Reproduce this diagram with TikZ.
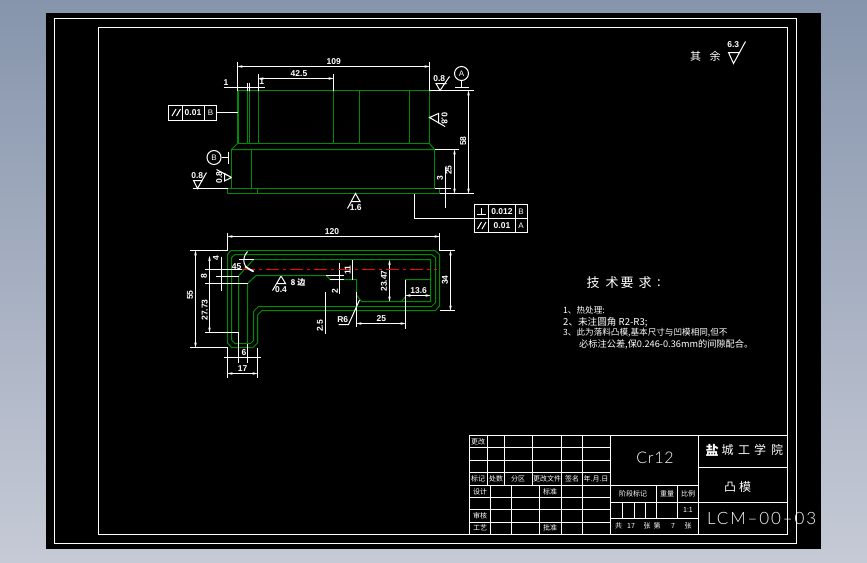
\documentclass[tikz,border=0pt]{standalone}
\usepackage{fontspec}
\setmainfont{Liberation Sans}
\newfontfamily\cjk{Noto Sans CJK SC}
\newfontfamily\cad[LetterSpace=5]{Lato Light}
\newfontfamily\cadwide[LetterSpace=11]{Lato Light}
\usetikzlibrary{arrows.meta}
\definecolor{partgreen}{RGB}{0,140,0}
\definecolor{winA}{RGB}{134,149,172}
\definecolor{winB}{RGB}{198,202,214}
\tikzset{
	>={Stealth[length=5pt,width=2.6pt]},
	part/.style={draw=partgreen,line width=1pt},
	line/.style={draw=white,line width=1pt},
	dimline/.style={line,<->},
	dimtext/.style={text=white,font=\bfseries\fontsize{8.5}{8.5}\selectfont,inner sep=0pt},
	cjktext/.style={text=white,font=\cjk\fontsize{7}{7}\selectfont,inner sep=0pt},
	bigtext/.style={text=white,font=\cad\fontsize{16}{16}\selectfont,inner sep=0pt}
}
\begin{document}
\begin{tikzpicture}[x=1pt,y=-1pt]

	\useasboundingbox (0,0) rectangle (867,562);
	\shade [top color=winA, bottom color=winB] (0,0) rectangle (867,562);
	\fill [black] (46,13) rectangle (821,549);
	\draw [line] (54.5,18.5) rectangle (796.5,543.5);
	\draw [line] (98.5,27.5) rectangle (787.5,534.5);

	% front view
	\coordinate (A) at (237.5,90.5);
	\coordinate (B) at (429.5,90.5);
	\coordinate (C) at (429.5,143.5);
	\coordinate (D) at (237.5,143.5);
	\coordinate (E) at (231.5,149.5);
	\coordinate (F) at (434.5,149.5);
	\coordinate (G) at (434.5,188.5);
	\coordinate (H) at (231.5,188.5);
	\coordinate (I) at (227.5,188.5);
	\coordinate (J) at (439.5,188.5);
	\coordinate (K) at (439.5,193.5);
	\coordinate (L) at (227.5,193.5);

	\draw [part] (A)--(B)--(C)--(D)--(A);
	\draw [part,line width=2pt] (A)--(D);
	\draw [part] (D)--(E)--(F)--(C);
	\draw [part] (E)--(H) (F)--(G);
	\draw [part] (I)--(J)--(K)--(L)--(I);
	\foreach \x in {247.5,249.5,258.5,333.5,359.5,409.5}
		\draw [part] (\x,90.5) -- (\x,143.5);
	\draw [part] (251.5,149.5) -- (251.5,188.5);
	\draw [part] (257.5,188.5) -- (257.5,193.5);

	% front view dimensions
	\draw [line] (A) -- (237.5,61.5);
	\draw [line] (B) -- (429.5,61.5);
	\draw [dimline] (237.5,66.5) -- (429.5,66.5);
	\draw [line] (258.5,90.5) -- (258.5,74);
	\draw [line] (333.5,90.5) -- (333.5,74);
	\draw [dimline] (258.5,78.5) -- (333.5,78.5);
	\draw [line] (223.5,87.5) -- (265,87.5);
	\foreach \x in {247.5,249.5}
		\draw [line] (\x,83) -- (\x,90.5);
	\draw [line] (B) -- (474,90.5);
	\draw [line] (K) -- (474,193.5);
	\draw [dimline] (468.5,90.5) -- (468.5,193.5);
	\draw [line] (F) -- (458.5,149.5);
	\draw [dimline] (454.5,149.5) -- (454.5,193.5);
	\draw [line] (G) -- (451,188.5);
	\draw [line] (445.5,166.5) -- (445.5,207.5);

	% datums and frames
	\node [line,circle,minimum size=14pt,inner sep=0pt,text=white,font=\fontsize{8}{8}\selectfont] (datumA) at (461.5,73.5) {A};
	\coordinate (datumAfoot) at (461.5,87.5);
	\draw [line] (datumA) -- (datumAfoot);
	\draw [line] (455,87.5) -- (468.5,87.5);
	\node [line,circle,minimum size=14pt,inner sep=0pt,text=white,font=\fontsize{8}{8}\selectfont] (datumB) at (214,157.5) {B};
	\coordinate (datumBfoot) at (228.5,157.5);
	\draw [line] (datumB) -- (datumBfoot);
	\draw [line] (228.5,151.5) -- (228.5,163.5);

	\draw [line] (168.5,105.5) rectangle (216.5,120.5);
	\draw [line] (182.5,105.5) -- (182.5,120.5) (204.5,105.5) -- (204.5,120.5);
	\draw [line] (172,116) -- (176,109) (176.5,116) -- (180.5,109);
	\draw [line] (216.5,112.5) -- (237.5,112.5);

	\draw [line] (414.5,193.5) -- (414.5,218.5) -- (474.5,218.5);
	\draw [line] (474.5,204.5) rectangle (527.5,232.5);
	\draw [line] (474.5,218.5) -- (527.5,218.5);
	\draw [line] (488.5,204.5) -- (488.5,232.5) (515.5,204.5) -- (515.5,232.5);
	\draw [line] (477,214.5) -- (485.5,214.5) (481.5,208) -- (481.5,214.5);
	\draw [line] (477.5,229) -- (481.5,222) (482,229) -- (486,222);

	% roughness marks
	\draw [line] (192.5,188.5) -- (227.5,188.5);
	\draw [line] (206.5,172.5) -- (197.5,188.5) -- (193.5,180.5) -- (202.5,180.5);
	\draw [line] (449.5,76.5) -- (440,90.5) -- (436,83.5) -- (446.5,83.5);
	\draw [line] (445,126.5) -- (429.5,117.5) -- (438.5,113.5) -- (438.5,123.5);
	\draw [line] (216.5,169.5) -- (231.5,177.5) -- (224.5,173.5) -- (224.5,181) -- (231.5,177.5);
	\draw [line] (347.5,208.5) -- (355.5,193.5) -- (360,201.5) -- (351.5,201.5);
	\draw [line] (272.5,290.5) -- (281,276) -- (285.5,283.5) -- (276.5,283.5);
	\draw [line] (745.5,41.5) -- (733.5,63.5) -- (728.5,52.5) -- (740,52.5);

	% plan view
	\draw [part] (231,250.5) -- (435,250.5) -- (439.5,254.6) -- (439.5,306) -- (435.5,310.5) -- (262,310.5)
		-- (257.5,315) -- (257.5,343) -- (253,347.5) -- (231.5,347.5) -- (227.5,343) -- (227.5,254.5) -- cycle;
	\draw [part] (235,254.5) -- (431.5,254.5) -- (435.5,257.5) -- (435.5,302.5) -- (431.5,306.5) -- (258.5,306.5)
		-- (253.5,311.5) -- (253.5,340.5) -- (250.5,343.5) -- (235,343.5) -- (231.5,340) -- (231.5,257.5) -- cycle;
	\draw [part] (238.5,343.5) -- (238.5,276) -- (253.5,259.5) -- (430.5,259.5) -- (430.5,301.5) -- (401.5,301.5)
		-- (405.5,296.5) -- (405.5,279.5) -- (430.5,279.5);
	\draw [part] (247.5,343.5) -- (247.5,283.5) -- (256,275.5) -- (326.5,275.5) -- (330,279.5) -- (356.5,279.5)
		-- (356.5,295) -- (361.5,301.5) -- (401.5,301.5);

	% plan view dimensions
	\draw [line] (227.5,250.5) -- (227.5,232.5);
	\draw [line] (439.5,250.5) -- (439.5,232.5);
	\draw [dimline] (227.5,236.5) -- (439.5,236.5);
	\draw [line] (190,250.5) -- (227.5,250.5);
	\draw [line] (190,347.5) -- (227.5,347.5);
	\draw [dimline] (195.5,250.5) -- (195.5,347.5);
	\draw [dimline] (209.5,256) -- (209.5,332.5);
	\draw [line] (205,332.5) -- (238.5,332.5);
	\draw [line] (205,269.5) -- (241.5,269.5);
	\draw [line] (216,276.5) -- (238.5,276.5);
	\draw [line] (205,283.5) -- (247.5,283.5);
	\draw [line] (221.5,256.5) -- (221.5,290.5);
	\draw [line] (439.5,250.5) -- (455,250.5);
	\draw [line] (439.5,310.5) -- (455,310.5);
	\draw [dimline] (450.5,250.5) -- (450.5,310.5);
	\draw [dimline] (389.5,260) -- (389.5,301.5);
	\draw [line] (352.5,260) -- (352.5,279.5);
	\draw [line] (339.5,262.5) -- (339.5,293.5);
	\draw [line] (326,275.5) -- (343.5,275.5);
	\draw [line] (330,279.5) -- (343.5,279.5);
	\draw [line] (325.5,291.5) -- (325.5,333.5);
	\draw [line] (356.5,291.5) -- (356.5,326.5);
	\draw [line] (405.5,279.5) -- (405.5,328.5);
	\draw [dimline] (356.5,323.5) -- (405.5,323.5);
	\draw [dimline] (405.5,295.5) -- (430.5,295.5);
	\draw [line] (338.5,324.5) -- (348.5,324.5) -- (359.5,300);
	\draw [line] (227.5,347.5) -- (227.5,377.5);
	\draw [line] (257.5,347.5) -- (257.5,377.5);
	\draw [dimline] (227.5,373.5) -- (257.5,373.5);
	\draw [line] (238.5,332.5) -- (238.5,362.5);
	\draw [line] (247.5,343.5) -- (247.5,362.5);
	\draw [line] (224,357.5) -- (260.5,357.5);

	% centre line over the dimensions
	\draw [red,line width=1.2pt,dash pattern=on 13pt off 4pt on 3pt off 4pt] (241.5,269.5) -- (436.5,269.5);

	% 45 degree mark
	\draw [line] (247.5,251.5) .. controls (241,259) and (243,268) .. (253.5,271.5);
	\draw [line,line width=1.6pt] (245,266.5) -- (253.5,271.5);
	\draw [line] (238.5,259.5) -- (254,259.5);

	% dimension texts
	\foreach \name/\x/\y/\rot/\txt in {
		dimA/333.7/61.3/0/109, dimB/299/73.3/0/42.5, dimC/226/82.7/0/1, dimD/261.7/81.7/0/1,
		dimE/463.3/141/90/58, dimF/448.7/170/90/25, dimG/440/178.3/90/3,
		dimH/332/231.3/0/120, dimI/190/295/90/55, dimJ/204.7/310/90/27.73, dimK/204/276/90/8,
		dimL/216/258.3/90/4, dimM/445/280/90/34, dimN/384/281/90/23.47, dimO/347.7/270/90/11,
		dimP/335/290.7/90/2, dimQ/320/326/90/2.5, dimR/381.3/318.7/0/25, dimS/418.7/290.7/0/13.6,
		dimT/242.7/369/0/17, dimU/244/352.3/0/6, dimV/342.7/320/0/R6, dimW/236.7/266.7/0/45,
		roA/439.3/79/0/0.8, roB/444.5/118.3/-90/0.8, roC/197.3/175.7/0/0.8, roD/219.3/177.3/90/0.8,
		roE/355.7/207.3/0/1.6, roF/281/290/0/0.4, roG/733.3/44.3/0/6.3,
		fcfA/193/112.8/0/0.01, fcfB/502/211.3/0/0.012, fcfC/502/225.3/0/0.01
	}
		\node [dimtext,rotate=\rot] (\name) at (\x,\y) {\txt};
	\node [text=white,inner sep=0pt,font=\fontsize{8}{8}\selectfont] (fcfD) at (210.5,113) {B};
	\node [text=white,inner sep=0pt,font=\fontsize{8}{8}\selectfont] (fcfE) at (521,211.3) {B};
	\node [text=white,inner sep=0pt,font=\fontsize{8}{8}\selectfont] (fcfF) at (521,225.3) {A};
	\node [cjktext,font=\cjk\bfseries\fontsize{8}{8}\selectfont] (countS) at (298,282.7) {8 边};

	\node [cjktext,font=\cjk\fontsize{11}{11}\selectfont] (restA) at (695.7,56) {其};
	\node [cjktext,font=\cjk\fontsize{11}{11}\selectfont] (restB) at (715,56) {余};

	% technical notes
	\foreach \name/\x/\txt in {noteA/593/技, noteB/612/术, noteC/627/要, noteD/645/求, noteE/659/:}
		\node [cjktext,font=\cjk\fontsize{13}{13}\selectfont] (\name) at (\x,283) {\txt};
	\node [cjktext,anchor=west,font=\cjk\fontsize{8.6}{8.6}\selectfont] (lineA) at (563,310.7) {1、热处理:};
	\node [cjktext,anchor=west,font=\cjk\fontsize{9.6}{9.6}\selectfont] (lineB) at (563,322.3) {2、未注圆角 R2-R3;};
	\node [cjktext,anchor=west,font=\cjk\fontsize{8.6}{8.6}\selectfont] (lineC) at (563,332.7) {3、此为落料凸模,基本尺寸与凹模相同,但不};
	\node [cjktext,anchor=west,font=\cjk\fontsize{9.2}{9.2}\selectfont] (lineD) at (579,344) {必标注公差,保0.246-0.36mm的间隙配合。};

	% title block
	\draw [line] (469.5,435.5) rectangle (787.5,534.5);
	\draw [line] (698.5,435.5) -- (698.5,534.5);
	\draw [line] (610.5,435.5) -- (610.5,534.5);
	\foreach \y in {447.5,460.5,472.5}
		\draw [line] (469.5,\y) -- (610.5,\y);
	\draw [line] (469.5,485.5) -- (698.5,485.5);
	\foreach \y in {497.5,509.5,522.5}
		\draw [line] (469.5,\y) -- (610.5,\y);
	\foreach \x in {487.5,504.5,532.5,561.5,582.5}
		\draw [line] (\x,435.5) -- (\x,485.5);
	\foreach \x in {490.5,511.5,539.5,561.5,582.5}
		\draw [line] (\x,485.5) -- (\x,534.5);
	\draw [line] (610.5,502.5) -- (787.5,502.5);
	\draw [line] (610.5,518.5) -- (698.5,518.5);
	\draw [line] (698.5,467.5) -- (787.5,467.5);
	\foreach \x in {656.5,677.5}
		\draw [line] (\x,485.5) -- (\x,518.5);
	\foreach \x in {622.5,634.5,645.5}
		\draw [line] (\x,502.5) -- (\x,518.5);

	\foreach \name/\x/\y/\txt in {
		cellA/478/441.5/更改, cellB/478/479/标记, cellC/496/479/处数, cellD/518/479/分区,
		cellE/547/479/更改文件, cellF/572/479/签名, cellG/596/479/年.月.日,
		cellH/480/491.5/设计, cellI/550/491.5/标准, cellJ/480/516/审核, cellK/480/528/工艺,
		cellL/550/528/批准, cellM/633/494/阶段标记, cellN/667/494/重量, cellO/688/494/比例,
		cellP/618.5/526/共, cellQ/631/526/17, cellR/647/526/张, cellS/657/526/第,
		cellT/673/526/7, cellU/688/526/张, cellV/688/510.5/1:1
	}
		\node [cjktext] (\name) at (\x,\y) {\txt};

	\node [bigtext] (matl) at (655,458.3) {Cr12};
	\node [bigtext,font=\cadwide\fontsize{17}{17}\selectfont,anchor=west] (drawno) at (707,518.5) {LCM–00–03};
	\node [cjktext,font=\cjk\bfseries\fontsize{13}{13}\selectfont] (schA) at (712,450) {盐};
	\foreach \name/\x/\txt in {schB/727.5/城, schC/744/工, schD/760/学, schE/777/院}
		\node [cjktext,font=\cjk\fontsize{12}{12}\selectfont] (\name) at (\x,450) {\txt};
	\node [cjktext,font=\cjk\fontsize{12}{12}\selectfont] (partA) at (730,487) {凸};
	\node [cjktext,font=\cjk\fontsize{12}{12}\selectfont] (partB) at (745,487) {模};

\end{tikzpicture}
\end{document}
